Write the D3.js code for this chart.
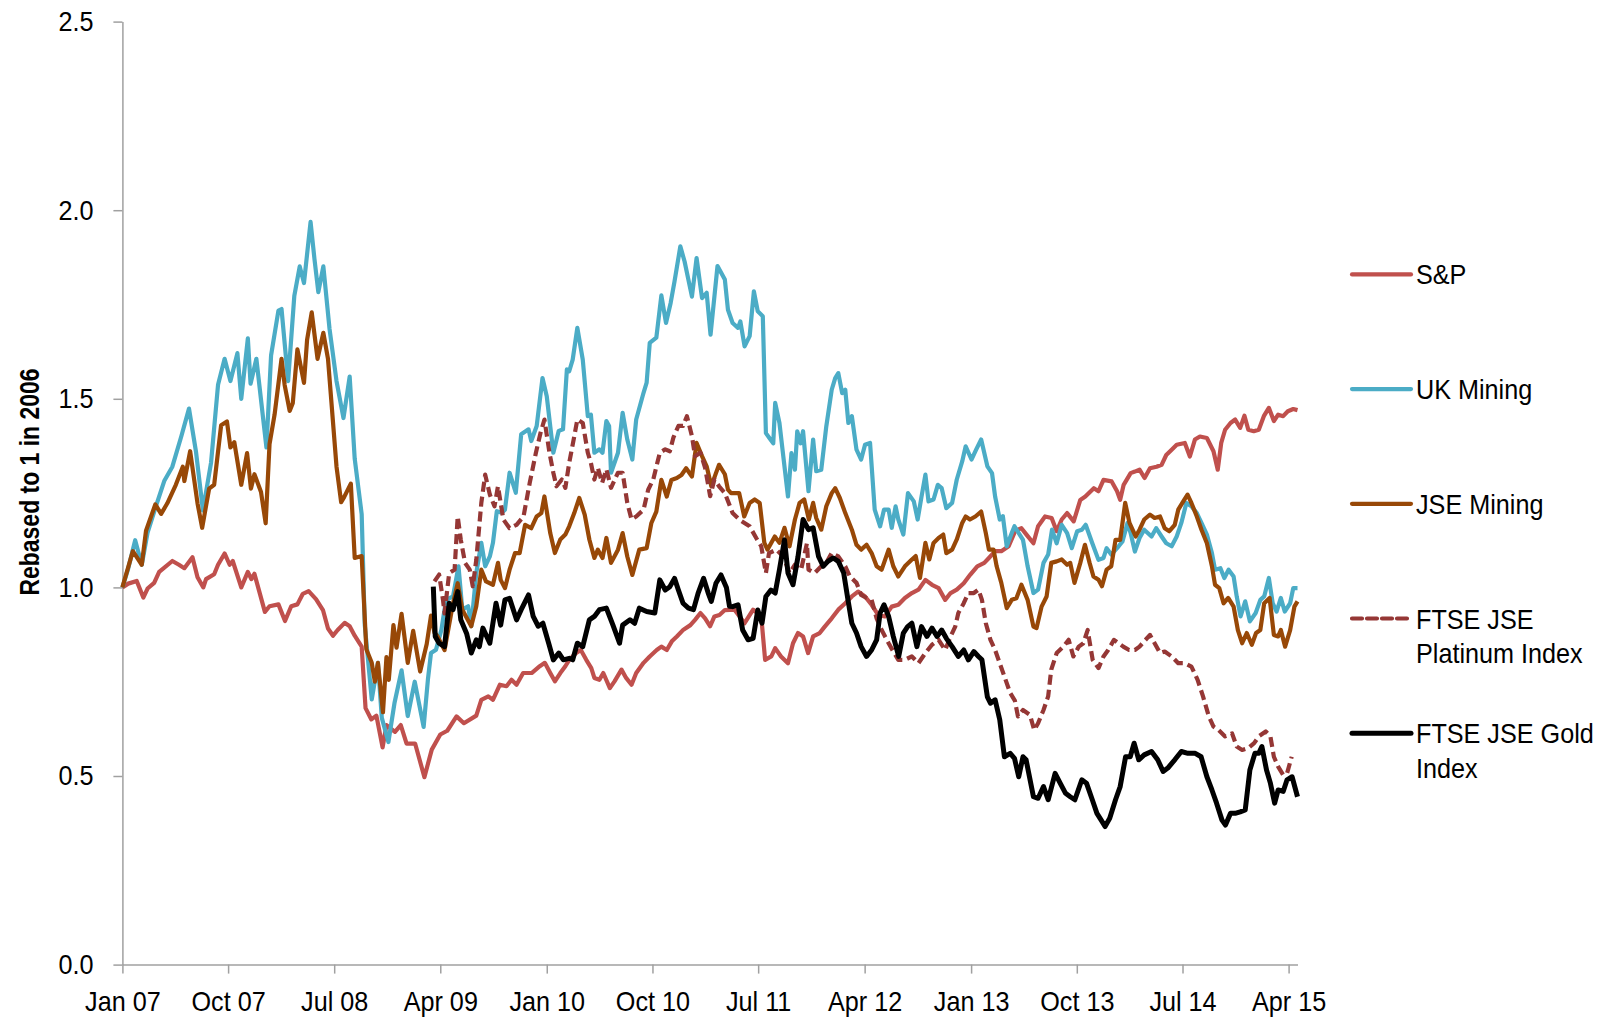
<!DOCTYPE html>
<html>
<head>
<meta charset="utf-8">
<script src="https://cdn.jsdelivr.net/npm/d3@7"></script>
<style>
  body { margin: 0; background: #fff; }
  text { font-family: "Liberation Sans", Arial, sans-serif; fill: #000; }
</style>
</head>
<body>
<svg id="chart" width="1600" height="1020"></svg>
<script>
// Axis ticks
const xTickDates = ["2007-01-01","2007-10-01","2008-07-01","2009-04-01","2010-01-01","2010-10-01",
  "2011-07-01","2012-04-01","2013-01-01","2013-10-01","2014-07-01","2015-04-01"];
const yTicks = [0, 0.5, 1.0, 1.5, 2.0, 2.5];

// Series, rebased to 1
const sp = [["2007-01-01",1.00],["2007-01-16",1.01],["2007-02-07",1.017],["2007-02-24",0.973],["2007-03-07",0.997],["2007-03-24",1.012],["2007-04-06",1.041],["2007-05-10",1.07],["2007-05-27",1.06],["2007-06-10",1.051],["2007-07-01",1.08],["2007-07-14",1.027],["2007-07-29",1.0],["2007-08-05",1.022],["2007-08-26",1.035],["2007-09-05",1.06],["2007-09-22",1.09],["2007-10-05",1.06],["2007-10-13",1.07],["2007-11-04",1.0],["2007-11-21",1.041],["2007-11-30",1.022],["2007-12-08",1.036],
  ["2008-01-04",0.935],["2008-01-16",0.95],["2008-02-08",0.955],["2008-02-25",0.911],["2008-03-12",0.95],["2008-03-28",0.955],["2008-04-11",0.983],["2008-04-26",0.99],["2008-05-15",0.969],["2008-06-02",0.94],["2008-06-15",0.891],["2008-06-28",0.872],["2008-07-10",0.887],["2008-07-28",0.906],["2008-08-10",0.897],["2008-08-23",0.872],["2008-09-10",0.843],["2008-09-20",0.68],["2008-10-05",0.65],["2008-10-18",0.66],["2008-11-03",0.576],["2008-11-13",0.635],["2008-12-05",0.617],["2008-12-20",0.635],
  ["2009-01-04",0.586],["2009-01-26",0.586],["2009-02-19",0.497],["2009-03-10",0.57],["2009-04-01",0.61],["2009-04-19",0.62],["2009-05-13",0.658],["2009-06-01",0.64],["2009-07-03",0.66],["2009-07-16",0.702],["2009-08-03",0.711],["2009-08-15",0.702],["2009-09-02",0.742],["2009-09-19",0.738],["2009-10-02",0.755],["2009-10-15",0.742],["2009-11-01",0.773],["2009-11-23",0.773],["2009-12-14",0.791],["2009-12-27",0.80],
  ["2010-01-10",0.773],["2010-01-22",0.751],["2010-02-05",0.773],["2010-02-18",0.791],["2010-02-28",0.808],["2010-03-18",0.826],["2010-03-30",0.834],["2010-04-13",0.808],["2010-04-26",0.786],["2010-05-04",0.76],["2010-05-17",0.755],["2010-05-27",0.773],["2010-06-13",0.733],["2010-06-25",0.751],["2010-07-13",0.782],["2010-07-25",0.76],["2010-08-08",0.742],["2010-08-20",0.773],["2010-09-08",0.80],["2010-09-24",0.817],["2010-10-12",0.834],["2010-10-24",0.843],["2010-11-07",0.834],["2010-11-20",0.857],["2010-12-03",0.87],["2010-12-20",0.888],
  ["2011-01-07",0.90],["2011-01-19",0.914],["2011-02-02",0.932],["2011-02-14",0.918],["2011-02-27",0.897],["2011-03-10",0.923],["2011-03-23",0.927],["2011-04-06",0.94],["2011-05-01",0.941],["2011-05-27",0.905],["2011-06-18",0.941],["2011-07-09",0.923],["2011-07-19",0.808],["2011-08-04",0.817],["2011-08-14",0.839],["2011-08-29",0.817],["2011-09-16",0.799],["2011-09-29",0.852],["2011-10-12",0.879],["2011-10-25",0.87],["2011-11-07",0.826],["2011-11-20",0.87],["2011-12-07",0.879],["2011-12-20",0.896],
  ["2012-01-07",0.918],["2012-01-24",0.941],["2012-02-11",0.958],["2012-02-28",0.976],["2012-03-15",0.989],["2012-04-02",0.976],["2012-04-19",0.954],["2012-05-06",0.927],["2012-05-23",0.923],["2012-06-10",0.949],["2012-06-27",0.954],["2012-07-14",0.972],["2012-08-01",0.985],["2012-08-18",0.994],["2012-09-05",1.02],["2012-09-22",1.007],["2012-10-09",0.998],["2012-10-26",0.967],["2012-11-09",0.985],["2012-11-25",0.994],["2012-12-13",1.011],["2012-12-30",1.034],
  ["2013-01-17",1.056],["2013-02-04",1.065],["2013-02-16",1.078],["2013-03-04",1.096],["2013-03-20",1.096],["2013-04-08",1.109],["2013-04-25",1.15],["2013-05-11",1.157],["2013-05-24",1.14],["2013-06-11",1.117],["2013-06-23",1.162],["2013-07-11",1.188],["2013-07-28",1.184],["2013-08-10",1.149],["2013-08-23",1.18],["2013-09-06",1.197],["2013-09-23",1.175],["2013-10-10",1.232],["2013-10-23",1.241],["2013-11-14",1.263],["2013-11-26",1.255],["2013-12-09",1.285],["2013-12-30",1.281],
  ["2014-01-13",1.255],["2014-01-21",1.232],["2014-01-30",1.272],["2014-02-17",1.303],["2014-02-28",1.307],["2014-03-12",1.312],["2014-03-25",1.29],["2014-04-08",1.316],["2014-04-25",1.32],["2014-05-08",1.325],["2014-05-20",1.351],["2014-06-03",1.365],["2014-06-16",1.378],["2014-07-07",1.383],["2014-07-20",1.347],["2014-08-02",1.392],["2014-08-15",1.40],["2014-09-02",1.396],["2014-09-19",1.361],["2014-09-30",1.312],["2014-10-09",1.383],["2014-10-19",1.418],["2014-11-02",1.436],["2014-11-14",1.445],["2014-11-27",1.423],["2014-12-08",1.455],["2014-12-18",1.418],
  ["2015-01-01",1.414],["2015-01-14",1.418],["2015-01-27",1.454],["2015-02-09",1.476],["2015-02-22",1.441],["2015-03-05",1.458],["2015-03-18",1.454],["2015-03-30",1.467],["2015-04-13",1.473],["2015-04-24",1.47]];

const ukMining = [["2007-01-01",1.00],["2007-01-16",1.05],["2007-02-03",1.125],["2007-02-20",1.06],["2007-03-07",1.145],["2007-03-27",1.21],["2007-04-19",1.282],["2007-05-10",1.32],["2007-06-02",1.40],["2007-06-22",1.474],["2007-07-10",1.36],["2007-07-28",1.204],["2007-08-18",1.331],["2007-09-05",1.537],["2007-09-22",1.606],["2007-10-07",1.547],["2007-10-25",1.621],["2007-11-04",1.50],["2007-11-21",1.66],["2007-11-28",1.54],["2007-12-13",1.606],
  ["2008-01-08",1.371],["2008-01-20",1.615],["2008-02-08",1.734],["2008-02-16",1.738],["2008-03-04",1.547],["2008-03-20",1.773],["2008-04-03",1.851],["2008-04-14",1.807],["2008-05-01",1.969],["2008-05-11",1.871],["2008-05-21",1.783],["2008-06-03",1.851],["2008-06-19",1.685],["2008-07-07",1.547],["2008-07-25",1.449],["2008-08-10",1.559],["2008-08-23",1.341],["2008-09-10",1.194],["2008-09-18",0.90],["2008-10-06",0.703],["2008-10-22",0.80],["2008-11-01",0.654],["2008-11-18",0.59],["2008-12-04",0.695],["2008-12-22",0.78],
  ["2009-01-07",0.659],["2009-01-25",0.75],["2009-02-17",0.63],["2009-02-28",0.755],["2009-03-08",0.826],["2009-03-21",0.835],["2009-04-04",0.888],["2009-04-16",0.967],["2009-05-04",0.976],["2009-05-18",1.056],["2009-05-28",0.941],["2009-06-12",0.95],["2009-06-20",0.897],["2009-07-03",1.038],["2009-07-16",1.118],["2009-07-26",1.056],["2009-08-07",1.082],["2009-08-15",1.118],["2009-08-25",1.202],["2009-09-07",1.198],["2009-09-15",1.206],["2009-09-27",1.304],["2009-10-13",1.251],["2009-10-27",1.406],["2009-11-15",1.419],["2009-11-22",1.388],["2009-12-06",1.428],["2009-12-21",1.555],
  ["2010-01-01",1.507],["2010-01-18",1.357],["2010-02-01",1.415],["2010-02-12",1.419],["2010-02-22",1.578],["2010-02-28",1.573],["2010-03-09",1.604],["2010-03-21",1.688],["2010-04-04",1.604],["2010-04-17",1.454],["2010-04-25",1.458],["2010-05-04",1.357],["2010-05-17",1.366],["2010-05-25",1.357],["2010-06-04",1.441],["2010-06-11",1.428],["2010-06-16",1.304],["2010-07-04",1.357],["2010-07-16",1.463],["2010-07-28",1.392],["2010-08-10",1.339],["2010-08-20",1.445],["2010-09-08",1.516],["2010-09-16",1.543],["2010-09-24",1.648],["2010-10-11",1.662],["2010-10-24",1.774],["2010-11-05",1.701],["2010-11-17",1.754],["2010-11-27",1.811],["2010-12-12",1.904],["2010-12-23",1.864],
  ["2011-01-11",1.771],["2011-01-23",1.873],["2011-02-06",1.767],["2011-02-18",1.781],["2011-02-28",1.67],["2011-03-18",1.852],["2011-04-06",1.816],["2011-04-14",1.736],["2011-04-26",1.701],["2011-05-10",1.688],["2011-05-16",1.705],["2011-05-27",1.639],["2011-06-09",1.666],["2011-06-20",1.785],["2011-06-30",1.732],["2011-07-13",1.719],["2011-07-21",1.409],["2011-07-30",1.396],["2011-08-09",1.382],["2011-08-14",1.489],["2011-08-25",1.436],["2011-09-04",1.347],["2011-09-16",1.241],["2011-09-25",1.356],["2011-10-04",1.312],["2011-10-10",1.414],["2011-10-19",1.382],["2011-10-25",1.414],["2011-11-08",1.255],["2011-11-20",1.392],["2011-11-28",1.308],["2011-12-11",1.312],["2011-12-24",1.427],
  ["2012-01-07",1.524],["2012-01-16",1.555],["2012-01-24",1.568],["2012-02-03",1.515],["2012-02-11",1.524],["2012-02-19",1.436],["2012-02-28",1.454],["2012-03-11",1.365],["2012-03-23",1.339],["2012-04-02",1.378],["2012-04-15",1.383],["2012-04-27",1.206],["2012-05-11",1.162],["2012-05-21",1.206],["2012-06-02",1.206],["2012-06-10",1.158],["2012-06-20",1.215],["2012-06-27",1.18],["2012-07-10",1.14],["2012-07-22",1.25],["2012-08-06",1.228],["2012-08-16",1.18],["2012-08-26",1.241],["2012-09-05",1.299],["2012-09-13",1.228],["2012-09-26",1.233],["2012-10-07",1.272],["2012-10-17",1.263],["2012-10-29",1.21],["2012-11-13",1.224],["2012-11-25",1.286],["2012-12-09",1.334],["2012-12-18",1.374],
  ["2013-01-02",1.339],["2013-01-14",1.365],["2013-01-27",1.392],["2013-02-12",1.321],["2013-02-24",1.303],["2013-03-04",1.241],["2013-03-16",1.18],["2013-03-24",1.189],["2013-04-03",1.109],["2013-04-16",1.144],["2013-04-23",1.162],["2013-05-15",1.126],["2013-05-27",1.056],["2013-06-11",0.985],["2013-06-23",0.994],["2013-07-07",1.065],["2013-07-19",1.087],["2013-07-29",1.153],["2013-08-10",1.117],["2013-08-23",1.166],["2013-09-06",1.144],["2013-09-18",1.104],["2013-10-02",1.149],["2013-10-14",1.153],["2013-10-24",1.166],["2013-11-10",1.117],["2013-11-26",1.073],["2013-12-09",1.078],["2013-12-17",1.104],["2013-12-29",1.087],
  ["2014-01-17",1.109],["2014-01-27",1.122],["2014-02-09",1.171],["2014-02-17",1.144],["2014-02-28",1.095],["2014-03-12",1.131],["2014-03-24",1.153],["2014-04-12",1.135],["2014-04-24",1.157],["2014-05-08",1.135],["2014-05-20",1.117],["2014-06-03",1.109],["2014-06-16",1.135],["2014-06-28",1.171],["2014-07-11",1.224],["2014-07-24",1.215],["2014-08-07",1.197],["2014-08-19",1.171],["2014-09-02",1.14],["2014-09-15",1.091],["2014-09-23",1.047],["2014-10-07",1.051],["2014-10-17",1.025],["2014-10-28",1.047],["2014-11-10",1.029],["2014-11-18",0.976],["2014-11-28",0.923],["2014-12-10",0.963],["2014-12-22",0.91],
  ["2015-01-06",0.932],["2015-01-18",0.967],["2015-01-28",0.976],["2015-02-09",1.025],["2015-02-19",0.958],["2015-03-01",0.936],["2015-03-12",0.972],["2015-03-22",0.936],["2015-04-05",0.958],["2015-04-13",0.998],["2015-04-24",0.998]];

const jseMining = [["2007-01-01",1.00],["2007-01-28",1.096],["2007-02-20",1.06],["2007-03-03",1.15],["2007-03-27",1.22],["2007-04-11",1.195],["2007-04-27",1.223],["2007-05-19",1.272],["2007-06-06",1.32],["2007-06-10",1.282],["2007-06-25",1.361],["2007-07-14",1.223],["2007-07-26",1.158],["2007-08-13",1.262],["2007-08-26",1.272],["2007-09-13",1.43],["2007-09-28",1.44],["2007-10-07",1.371],["2007-10-17",1.385],["2007-11-04",1.272],["2007-11-19",1.356],["2007-11-29",1.262],["2007-12-08",1.30],["2007-12-25",1.253],
  ["2008-01-06",1.17],["2008-01-16",1.38],["2008-01-29",1.458],["2008-02-16",1.606],["2008-02-24",1.537],["2008-03-08",1.468],["2008-03-16",1.488],["2008-03-28",1.631],["2008-04-14",1.542],["2008-04-22",1.656],["2008-05-04",1.729],["2008-05-19",1.606],["2008-06-03",1.675],["2008-06-15",1.606],["2008-07-07",1.32],["2008-07-19",1.226],["2008-07-27",1.24],["2008-08-13",1.275],["2008-08-23",1.078],["2008-09-10",1.083],["2008-09-22",0.836],["2008-10-06",0.80],["2008-10-14",0.75],["2008-10-22",0.80],["2008-11-04",0.669],["2008-11-13",0.815],["2008-11-19",0.755],["2008-12-01",0.90],["2008-12-09",0.84],["2008-12-22",0.93],
  ["2009-01-07",0.80],["2009-01-21",0.885],["2009-02-08",0.777],["2009-02-25",0.85],["2009-03-08",0.925],["2009-03-17",0.88],["2009-03-25",0.87],["2009-04-12",0.834],["2009-05-04",0.958],["2009-05-16",1.011],["2009-05-28",0.941],["2009-06-20",0.897],["2009-07-03",0.95],["2009-07-16",1.047],["2009-07-28",1.016],["2009-08-15",1.007],["2009-08-28",1.065],["2009-09-04",1.02],["2009-09-15",0.998],["2009-09-27",1.047],["2009-10-11",1.091],["2009-10-23",1.091],["2009-11-06",1.166],["2009-11-22",1.157],["2009-12-06",1.188],["2009-12-18",1.197],["2009-12-26",1.241],
  ["2010-01-10",1.144],["2010-01-22",1.091],["2010-02-05",1.127],["2010-02-18",1.14],["2010-02-28",1.162],["2010-03-13",1.197],["2010-03-26",1.237],["2010-04-09",1.193],["2010-04-21",1.127],["2010-05-04",1.078],["2010-05-13",1.10],["2010-05-25",1.078],["2010-06-04",1.131],["2010-06-16",1.065],["2010-07-04",1.10],["2010-07-16",1.144],["2010-07-28",1.082],["2010-08-10",1.033],["2010-08-28",1.10],["2010-09-16",1.104],["2010-09-28",1.17],["2010-10-11",1.201],["2010-10-24",1.285],["2010-11-07",1.241],["2010-11-19",1.285],["2010-12-03",1.29],["2010-12-15",1.298],["2010-12-27",1.316],
  ["2011-01-11",1.294],["2011-01-23",1.383],["2011-02-06",1.348],["2011-02-18",1.321],["2011-03-02",1.268],["2011-03-14",1.303],["2011-03-22",1.325],["2011-04-06",1.30],["2011-04-14",1.259],["2011-04-22",1.25],["2011-05-13",1.25],["2011-05-26",1.188],["2011-06-09",1.224],["2011-06-22",1.233],["2011-07-05",1.224],["2011-07-17",1.118],["2011-07-25",1.10],["2011-08-13",1.135],["2011-08-25",1.118],["2011-09-07",1.158],["2011-09-20",1.109],["2011-10-04",1.18],["2011-10-16",1.224],["2011-10-28",1.233],["2011-11-09",1.18],["2011-11-20",1.224],["2011-11-28",1.184],["2011-12-11",1.153],["2011-12-24",1.215],
  ["2012-01-07",1.25],["2012-01-16",1.263],["2012-01-28",1.237],["2012-02-11",1.197],["2012-02-28",1.153],["2012-03-11",1.113],["2012-03-23",1.10],["2012-04-06",1.113],["2012-04-19",1.091],["2012-05-02",1.056],["2012-05-15",1.047],["2012-06-02",1.10],["2012-06-14",1.056],["2012-06-27",1.029],["2012-07-14",1.056],["2012-08-01",1.074],["2012-08-11",1.083],["2012-08-22",1.025],["2012-09-05",1.118],["2012-09-15",1.074],["2012-09-26",1.118],["2012-10-09",1.131],["2012-10-21",1.14],["2012-10-29",1.091],["2012-11-13",1.10],["2012-11-25",1.127],["2012-12-09",1.171],["2012-12-18",1.188],["2012-12-29",1.18],
  ["2013-01-12",1.188],["2013-01-27",1.201],["2013-02-08",1.144],["2013-02-16",1.10],["2013-02-28",1.10],["2013-03-08",1.056],["2013-03-20",1.012],["2013-04-03",0.945],["2013-04-16",0.967],["2013-04-28",0.971],["2013-05-11",1.007],["2013-05-27",0.967],["2013-06-11",0.896],["2013-06-19",0.892],["2013-07-02",0.949],["2013-07-15",0.976],["2013-07-27",1.065],["2013-08-10",1.069],["2013-08-23",1.074],["2013-09-06",1.06],["2013-09-14",1.065],["2013-09-25",1.012],["2013-10-10",1.065],["2013-10-22",1.113],["2013-11-03",1.065],["2013-11-13",1.029],["2013-11-26",1.02],["2013-12-05",1.003],["2013-12-17",1.047],["2013-12-29",1.056],
  ["2014-01-09",1.126],["2014-01-21",1.126],["2014-02-03",1.224],["2014-02-14",1.171],["2014-02-22",1.153],["2014-03-02",1.135],["2014-03-12",1.153],["2014-03-24",1.18],["2014-04-08",1.193],["2014-04-20",1.184],["2014-05-04",1.188],["2014-05-16",1.157],["2014-05-28",1.149],["2014-06-11",1.166],["2014-06-20",1.206],["2014-07-03",1.228],["2014-07-14",1.246],["2014-07-24",1.224],["2014-08-07",1.188],["2014-08-19",1.153],["2014-09-02",1.117],["2014-09-15",1.056],["2014-09-23",1.007],["2014-10-04",0.998],["2014-10-15",0.958],["2014-10-27",0.972],["2014-11-10",0.949],["2014-11-21",0.887],["2014-12-02",0.852],["2014-12-14",0.879],["2014-12-27",0.848],
  ["2015-01-07",0.879],["2015-01-18",0.887],["2015-01-28",0.958],["2015-02-11",0.972],["2015-02-22",0.874],["2015-03-05",0.87],["2015-03-12",0.887],["2015-03-23",0.843],["2015-04-05",0.887],["2015-04-16",0.949],["2015-04-24",0.963]];

const platinum = [["2009-03-17",1.016],["2009-03-29",1.034],["2009-04-08",0.967],["2009-04-12",0.931],["2009-04-24",1.038],["2009-05-08",1.047],["2009-05-16",1.188],["2009-05-24",1.126],["2009-06-04",1.065],["2009-06-16",1.047],["2009-06-24",1.003],["2009-07-03",1.073],["2009-07-16",1.224],["2009-07-26",1.299],["2009-08-07",1.246],["2009-08-19",1.215],["2009-08-28",1.268],["2009-09-11",1.18],["2009-09-27",1.157],["2009-10-15",1.166],["2009-11-02",1.188],["2009-11-18",1.277],["2009-12-04",1.357],["2009-12-16",1.41],["2009-12-26",1.445],
  ["2010-01-08",1.357],["2010-01-18",1.304],["2010-01-26",1.268],["2010-02-09",1.286],["2010-02-18",1.264],["2010-02-28",1.33],["2010-03-13",1.40],["2010-03-21",1.445],["2010-04-04",1.436],["2010-04-17",1.357],["2010-04-25",1.33],["2010-05-04",1.286],["2010-05-13",1.317],["2010-05-24",1.277],["2010-06-04",1.313],["2010-06-16",1.264],["2010-07-04",1.304],["2010-07-16",1.304],["2010-07-28",1.224],["2010-08-08",1.18],["2010-08-20",1.188],["2010-09-08",1.206],["2010-09-20",1.259],["2010-10-03",1.286],["2010-10-20",1.357],["2010-11-03",1.366],["2010-11-15",1.361],["2010-11-24",1.397],["2010-12-07",1.428],["2010-12-19",1.428],["2010-12-29",1.454],
  ["2011-01-11",1.401],["2011-01-19",1.348],["2011-02-02",1.357],["2011-02-14",1.317],["2011-02-27",1.242],["2011-03-10",1.286],["2011-03-22",1.268],["2011-04-06",1.25],["2011-04-26",1.197],["2011-05-13",1.18],["2011-06-09",1.162],["2011-06-26",1.131],["2011-07-09",1.109],["2011-07-21",1.038],["2011-07-29",1.091],["2011-08-17",1.10],["2011-09-04",1.082],["2011-09-20",1.038],["2011-10-04",1.06],["2011-10-20",1.047],["2011-11-04",1.117],["2011-11-08",1.047],["2011-11-24",1.038],["2011-12-11",1.056],["2011-12-24",1.065],
  ["2012-01-07",1.091],["2012-01-24",1.082],["2012-02-11",1.056],["2012-02-23",1.029],["2012-03-11",1.012],["2012-03-23",0.98],["2012-04-06",0.972],["2012-04-19",0.967],["2012-05-02",0.918],["2012-05-15",0.887],["2012-06-02",0.852],["2012-06-14",0.83],["2012-06-27",0.808],["2012-07-14",0.808],["2012-08-01",0.817],["2012-08-18",0.799],["2012-09-05",0.826],["2012-09-22",0.848],["2012-10-09",0.861],["2012-10-26",0.834],["2012-11-09",0.87],["2012-11-21",0.896],["2012-11-29",0.932],["2012-12-13",0.958],["2012-12-25",0.985],
  ["2013-01-08",0.985],["2013-01-20",0.994],["2013-01-29",0.967],["2013-02-08",0.905],["2013-02-20",0.861],["2013-03-04",0.834],["2013-03-16",0.799],["2013-03-28",0.764],["2013-04-12",0.72],["2013-04-24",0.70],["2013-05-02",0.658],["2013-05-15",0.675],["2013-06-02",0.662],["2013-06-13",0.622],["2013-06-23",0.64],["2013-07-07",0.675],["2013-07-19",0.711],["2013-07-27",0.782],["2013-08-10",0.826],["2013-08-27",0.843],["2013-09-10",0.861],["2013-09-22",0.817],["2013-10-06",0.843],["2013-10-18",0.852],["2013-10-29",0.887],["2013-11-11",0.808],["2013-11-26",0.786],["2013-12-09",0.817],["2013-12-21",0.834],
  ["2014-01-05",0.861],["2014-01-17",0.852],["2014-01-29",0.843],["2014-02-13",0.834],["2014-02-28",0.834],["2014-03-12",0.843],["2014-03-24",0.857],["2014-04-08",0.874],["2014-04-20",0.852],["2014-05-04",0.826],["2014-05-16",0.83],["2014-06-03",0.817],["2014-06-20",0.799],["2014-07-07",0.799],["2014-07-24",0.79],["2014-08-09",0.755],["2014-08-23",0.711],["2014-09-07",0.658],["2014-09-19",0.631],["2014-10-02",0.622],["2014-10-19",0.605],["2014-11-06",0.613],["2014-11-18",0.578],["2014-12-02",0.569],["2014-12-18",0.574],
  ["2015-01-02",0.587],["2015-01-14",0.605],["2015-02-01",0.618],["2015-02-13",0.605],["2015-02-22",0.551],["2015-03-05",0.525],["2015-03-18",0.503],["2015-03-28",0.507],["2015-04-09",0.551]];

const gold = [["2009-03-14",1.002],["2009-03-19",0.87],["2009-03-29",0.852],["2009-04-12",0.843],["2009-04-24",0.958],["2009-05-04",0.941],["2009-05-16",0.989],["2009-05-24",0.914],["2009-06-08",0.878],["2009-06-20",0.826],["2009-07-03",0.861],["2009-07-11",0.843],["2009-07-20",0.892],["2009-08-07",0.852],["2009-08-23",0.958],["2009-09-04",0.90],["2009-09-15",0.967],["2009-09-27",0.971],["2009-10-15",0.914],["2009-10-27",0.941],["2009-11-15",0.98],["2009-11-27",0.923],["2009-12-10",0.897],["2009-12-22",0.905],
  ["2010-01-06",0.852],["2010-01-18",0.808],["2010-02-01",0.826],["2010-02-13",0.808],["2010-02-28",0.812],["2010-03-09",0.808],["2010-03-21",0.852],["2010-04-04",0.843],["2010-04-21",0.914],["2010-05-04",0.923],["2010-05-17",0.941],["2010-06-04",0.945],["2010-06-21",0.90],["2010-07-08",0.852],["2010-07-16",0.90],["2010-08-04",0.914],["2010-08-16",0.905],["2010-08-28",0.945],["2010-09-16",0.936],["2010-10-07",0.932],["2010-10-20",1.02],["2010-11-03",0.993],["2010-11-15",1.002],["2010-11-27",1.024],["2010-12-07",0.993],["2010-12-19",0.958],
  ["2011-01-02",0.945],["2011-01-15",0.941],["2011-01-27",0.985],["2011-02-10",1.024],["2011-02-22",0.985],["2011-03-02",0.963],["2011-03-14",1.011],["2011-03-27",1.033],["2011-04-10",1.0],["2011-04-18",0.95],["2011-04-26",0.949],["2011-05-10",0.954],["2011-05-22",0.887],["2011-06-05",0.861],["2011-06-18",0.865],["2011-06-30",0.94],["2011-07-11",0.905],["2011-07-21",0.976],["2011-08-03",0.993],["2011-08-14",0.985],["2011-08-25",1.047],["2011-09-07",1.126],["2011-09-16",1.038],["2011-09-29",1.007],["2011-10-12",1.082],["2011-10-25",1.18],["2011-11-08",1.153],["2011-11-20",1.158],["2011-12-04",1.082],["2011-12-16",1.056],["2011-12-28",1.069],
  ["2012-01-11",1.078],["2012-01-24",1.069],["2012-02-07",1.038],["2012-02-18",0.967],["2012-02-28",0.905],["2012-03-11",0.879],["2012-03-23",0.843],["2012-04-06",0.817],["2012-04-19",0.834],["2012-05-02",0.861],["2012-05-11",0.932],["2012-05-21",0.954],["2012-06-02",0.923],["2012-06-14",0.87],["2012-06-28",0.817],["2012-07-10",0.879],["2012-07-21",0.896],["2012-08-01",0.905],["2012-08-14",0.843],["2012-08-26",0.896],["2012-09-09",0.87],["2012-09-22",0.892],["2012-10-05",0.87],["2012-10-17",0.887],["2012-10-29",0.865],["2012-11-13",0.843],["2012-11-29",0.817],["2012-12-13",0.834],["2012-12-25",0.808],
  ["2013-01-08",0.83],["2013-01-20",0.817],["2013-01-29",0.808],["2013-02-12",0.71],["2013-02-20",0.693],["2013-03-04",0.702],["2013-03-16",0.649],["2013-03-28",0.551],["2013-04-12",0.56],["2013-04-23",0.547],["2013-05-04",0.498],["2013-05-15",0.551],["2013-05-23",0.543],["2013-06-11",0.445],["2013-06-23",0.441],["2013-07-07",0.472],["2013-07-19",0.437],["2013-08-06",0.507],["2013-08-19",0.481],["2013-09-02",0.454],["2013-09-14",0.445],["2013-09-26",0.437],["2013-10-14",0.49],["2013-10-26",0.481],["2013-11-10",0.437],["2013-11-22",0.401],["2013-12-03",0.383],["2013-12-13",0.366],["2013-12-25",0.388],
  ["2014-01-09",0.437],["2014-01-21",0.472],["2014-02-04",0.551],["2014-02-16",0.551],["2014-02-26",0.587],["2014-03-10",0.543],["2014-03-24",0.556],["2014-04-12",0.565],["2014-04-28",0.543],["2014-05-12",0.512],["2014-05-24",0.521],["2014-06-11",0.543],["2014-06-28",0.565],["2014-07-15",0.56],["2014-08-03",0.56],["2014-08-18",0.551],["2014-09-02",0.498],["2014-09-15",0.463],["2014-09-27",0.428],["2014-10-11",0.383],["2014-10-20",0.37],["2014-11-02",0.401],["2014-11-14",0.401],["2014-11-27",0.405],["2014-12-10",0.41],["2014-12-22",0.516],
  ["2015-01-04",0.56],["2015-01-14",0.56],["2015-01-22",0.578],["2015-02-03",0.516],["2015-02-13",0.481],["2015-02-24",0.428],["2015-03-05",0.463],["2015-03-18",0.459],["2015-03-28",0.49],["2015-04-10",0.498],["2015-04-24",0.445]];

// Legend labels (wrapped as in the original)
const legendLabels = [["S&P"], ["UK Mining"], ["JSE Mining"], ["FTSE JSE", "Platinum Index"], ["FTSE JSE Gold", "Index"]];

const parseDate = d3.timeParse("%Y-%m-%d");

// series in draw order (later ones on top)
const series = [
  {values: sp,        color: "#C0504D", width: 4.2, dash: null},
  {values: ukMining,  color: "#4BACC6", width: 4.2, dash: null},
  {values: jseMining, color: "#984807", width: 4.2, dash: null},
  {values: platinum,  color: "#953735", width: 4.2, dash: "10,5"},
  {values: gold,      color: "#000000", width: 5,   dash: null}
].map((s, i) => ({
  ...s,
  label: legendLabels[i],
  points: s.values.map(d => ({date: parseDate(d[0]), value: d[1]}))
}));

const svg = d3.select("#chart");
const squeeze = 0.9; // the original text is slightly condensed

const x = d3.scaleTime()
  .domain([parseDate("2007-01-01"), parseDate("2015-04-24")])
  .range([122.4, 1297.5]);

const y = d3.scaleLinear()
  .domain([0, 2.5])
  .range([964.6, 21.6]);

// y axis
const yAxis = svg.append("g")
  .attr("transform", `translate(${x.range()[0]},0)`)
  .call(d3.axisLeft(y)
    .tickValues(yTicks)
    .tickFormat(d3.format(".1f"))
    .tickSize(9)
    .tickSizeOuter(0)
    .tickPadding(23));

// x axis
const xAxis = svg.append("g")
  .attr("transform", `translate(0,${y(0)})`)
  .call(d3.axisBottom(x)
    .tickValues(xTickDates.map(parseDate))
    .tickFormat(d3.timeFormat("%b %y"))
    .tickSize(9)
    .tickSizeOuter(0)
    .tickPadding(17.5));

[xAxis, yAxis].forEach(ax => {
  ax.select(".domain").attr("stroke", "#A0A0A0").attr("stroke-width", 1.5);
  ax.selectAll(".tick line").attr("stroke", "#A0A0A0").attr("stroke-width", 1.5);
  ax.selectAll(".tick text")
    .attr("font-size", 28)
    .attr("font-family", "'Liberation Sans', Arial, sans-serif")
    .attr("fill", "#000")
    .attr("transform", `scale(${squeeze},1)`);
});

// y axis title (narrow bold)
svg.append("text")
  .attr("transform", "translate(39,482) rotate(-90) scale(0.82,1)")
  .attr("text-anchor", "middle")
  .attr("font-size", 28)
  .attr("font-weight", "bold")
  .text("Rebased to 1 in 2006");

// lines
const line = d3.line()
  .x(d => x(d.date))
  .y(d => y(d.value));

svg.append("g")
  .selectAll("path")
  .data(series)
  .join("path")
  .attr("d", d => line(d.points))
  .attr("fill", "none")
  .attr("stroke", d => d.color)
  .attr("stroke-width", d => d.width)
  .attr("stroke-linejoin", "round")
  .attr("stroke-dasharray", d => d.dash);

// legend
const legend = svg.append("g")
  .selectAll("g")
  .data(series)
  .join("g")
  .attr("transform", (d, i) => `translate(1352,${274.4 + i * 114.7})`);

legend.append("line")
  .attr("x1", 0)
  .attr("x2", 59)
  .attr("stroke", d => d.color)
  .attr("stroke-width", d => d.width)
  .attr("stroke-linecap", "round")
  .attr("stroke-dasharray", d => d.dash);

legend.append("text")
  .attr("transform", `translate(64,10) scale(${squeeze},1)`)
  .attr("font-size", 28)
  .selectAll("tspan")
  .data(d => d.label)
  .join("tspan")
  .attr("x", 0)
  .attr("dy", (d, i) => i === 0 ? 0 : 34.5)
  .text(d => d);
</script>
</body>
</html>
